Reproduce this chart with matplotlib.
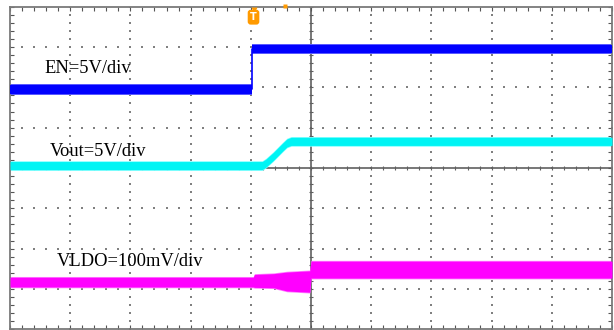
import numpy as np
import matplotlib
matplotlib.use("Agg")
import matplotlib.pyplot as plt

# time axis in screen divisions (10 div across)
en_t = [-5, -0.98, -0.98, 5]
en_v = [0, 0, 5, 5]            # V
en_noise = 0.55                # V, half band

vout_t = [-5, -0.81, -0.75, -0.63, -0.47, -0.40, -0.33, 5]
vout_v = [0, 0, 0.3, 1.1, 2.3, 2.8, 3.0, 3.0]   # V
vout_noise = 0.5

vldo_t = [-5, -0.96, -0.94, -0.62, -0.40, -0.02, 0.0, 5]
vldo_hi = [12, 12, 19, 21, 25, 28, 52, 52]          # mV, upper envelope
vldo_lo = [-12, -12, -13, -14, -22, -25, 10, 10]    # mV, lower envelope

labels = ["EN=5V/div", "Vout=5V/div", "VLDO=100mV/div"]

# channel placement on screen (div offset, units per div)
en_off, en_scale = 1.95, 5.0
vout_off, vout_scale = 0.06, 5.0
vldo_off, vldo_scale = -2.83, 100.0

fig = plt.figure(figsize=(6.14, 3.30), dpi=100)
ax = fig.add_axes([10 / 614, 0.7 / 330, 602 / 614, 322.6 / 330])
ax.set_xlim(-5, 5)
ax.set_ylim(-4, 4)

frame = "#7a7a7a"
for s in ax.spines.values():
    s.set_color(frame)
    s.set_linewidth(1.3)
ax.set_xticks(np.arange(-5, 6, 1))
ax.set_yticks(np.arange(-4, 5, 1))
ax.set_xticks(np.arange(-5, 5.01, 0.2), minor=True)
ax.set_yticks(np.arange(-4, 4.01, 0.2), minor=True)
ax.tick_params(which="both", direction="in", top=True, right=True,
               labelbottom=False, labelleft=False, color="#555555",
               length=3, width=0.8)

# dotted graticule
dx = np.arange(-5, 5.01, 0.2)
dy = np.arange(-4, 4.01, 0.2)
for k in range(-4, 5):
    if k != 0:
        ax.scatter(np.full(dy.size, k), dy, s=0.8, marker="s", color="#808080", lw=0, zorder=1)
for k in range(-3, 4):
    if k != 0:
        ax.scatter(dx, np.full(dx.size, k), s=0.8, marker="s", color="#808080", lw=0, zorder=1)

# centre crosshair with ticks
ax.axhline(0, color="#606060", lw=1.2, zorder=1)
ax.axvline(0, color="#606060", lw=1.2, zorder=1)
ax.scatter(dx, np.zeros(dx.size), marker="|", s=12, color="#606060", lw=0.8, zorder=1)
ax.scatter(np.zeros(dy.size), dy, marker="_", s=12, color="#606060", lw=0.8, zorder=1)

# EN trace
en_c = en_off + np.array(en_v) / en_scale
en_h = en_noise / en_scale
ax.fill_between(en_t, en_c - en_h - 0.02, en_c + en_h + 0.02, color="#5a5aff", lw=0, zorder=2)
ax.fill_between(en_t, en_c - en_h, en_c + en_h, color="#0000ff", lw=0, zorder=3)
ax.plot(en_t, en_c, color="#0000ff", lw=1.2, zorder=3)

# Vout trace
vo_c = vout_off + np.array(vout_v) / vout_scale
vo_h = vout_noise / vout_scale
ax.fill_between(vout_t, vo_c - vo_h - 0.02, vo_c + vo_h + 0.02, color="#80ffff", lw=0, zorder=2)
ax.fill_between(vout_t, vo_c - vo_h, vo_c + vo_h, color="#00f4f4", lw=0, zorder=3)

# VLDO trace
ld_hi = vldo_off + np.array(vldo_hi) / vldo_scale
ld_lo = vldo_off + np.array(vldo_lo) / vldo_scale
ax.fill_between(vldo_t, ld_lo - 0.02, ld_hi + 0.02, color="#ff80ff", lw=0, zorder=2)
ax.fill_between(vldo_t, ld_lo, ld_hi, color="#ff00ff", lw=0, zorder=3)

# channel labels
tfont = dict(family=["Liberation Serif", "DejaVu Serif"], fontsize=13.3, color="black",
             va="baseline", ha="left", zorder=5)
ax.text(-4.42, 2.35, labels[0], **tfont)
ax.text(-4.34, 0.30, labels[1], **tfont)
ax.text(-4.22, -2.42, labels[2], **tfont)

# trigger marker
orange = "#ff9a00"
ax.plot([-0.955], [3.93], marker="v", ms=5, color=orange, mec="none", clip_on=False, zorder=6)
ax.text(-0.955, 3.74, "T", ha="center", va="center", color="white", fontsize=7,
        fontweight="bold", zorder=7,
        bbox=dict(boxstyle="round,pad=0.25,rounding_size=0.3", fc=orange, ec="none"))
ax.plot([-0.43], [4.02], marker="s", ms=3, color=orange, mec="none", clip_on=False, zorder=6)

fig.savefig("out.png", dpi=100)
